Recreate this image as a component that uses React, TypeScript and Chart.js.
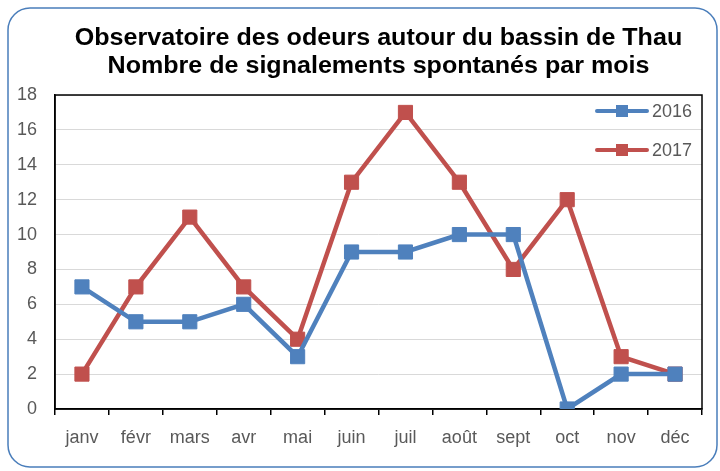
import React, { useEffect, useRef } from "react";
import { Chart, registerables } from "chart.js";

Chart.register(...registerables);

const titleLines = ["Observatoire des odeurs autour du bassin de Thau", "Nombre de signalements spontanés par mois"];
const months = ["janv", "févr", "mars", "avr", "mai", "juin", "juil", "août", "sept", "oct", "nov", "déc"];
const series2016 = [7, 5, 5, 6, 3, 9, 9, 10, 10, 0, 2, 2];
const series2017 = [2, 7, 11, 7, 4, 13, 17, 13, 8, 12, 3, 2];
const seriesLabels = ["2016", "2017"];
const yMin = 0;
const yMax = 18;
const yStep = 2;

const BLUE = "#4f81bd";
const RED = "#c0504d";
const FONT = "'Liberation Sans', Arial, sans-serif";

const framePlugin = {
  id: "frame",
  beforeDraw(chart: any) {
    const ctx = chart.ctx;
    ctx.save();
    ctx.fillStyle = "#ffffff";
    ctx.fillRect(0, 0, chart.width, chart.height);
    const x = 8, y = 8, w = 709, h = 459, r = 22;
    ctx.beginPath();
    ctx.moveTo(x + r, y);
    ctx.arcTo(x + w, y, x + w, y + h, r);
    ctx.arcTo(x + w, y + h, x, y + h, r);
    ctx.arcTo(x, y + h, x, y, r);
    ctx.arcTo(x, y, x + w, y, r);
    ctx.closePath();
    ctx.strokeStyle = "#4a7ebb";
    ctx.lineWidth = 1.5;
    ctx.stroke();
    // title
    const ca = chart.chartArea;
    const cx = (ca.left + ca.right) / 2;
    ctx.fillStyle = "#000000";
    ctx.font = `bold 23px ${FONT}`;
    ctx.textAlign = "center";
    ctx.textBaseline = "middle";
    titleLines.forEach((t, i) => {
      ctx.save();
      ctx.translate(cx, 39 + i * 28);
      ctx.scale(1.09, 1);
      ctx.fillText(t, 0, 0);
      ctx.restore();
    });
    ctx.restore();
  },
  beforeDatasetsDraw(chart: any) {
    const ca = chart.chartArea;
    const ctx = chart.ctx;
    ctx.save();
    ctx.strokeStyle = "#000000";
    ctx.lineWidth = 1.5;
    ctx.strokeRect(ca.left, ca.top, ca.right - ca.left, ca.bottom - ca.top);
    ctx.restore();
  },
  afterDatasetsDraw(chart: any) {
    const ctx = chart.ctx;
    const ca = chart.chartArea;
    ctx.save();
    chart.data.datasets.forEach((ds: any, i: number) => {
      const y = ca.top + 16 + i * 39;
      const x0 = ca.right - 105;
      const x1 = x0 + 50;
      ctx.strokeStyle = ds.borderColor;
      ctx.lineWidth = 4;
      ctx.lineCap = "round";
      ctx.beginPath();
      ctx.moveTo(x0, y);
      ctx.lineTo(x1, y);
      ctx.stroke();
      ctx.fillStyle = ds.backgroundColor;
      ctx.fillRect((x0 + x1) / 2 - 6, y - 6, 12, 12);
      ctx.fillStyle = "#595959";
      ctx.font = `18px ${FONT}`;
      ctx.textAlign = "left";
      ctx.textBaseline = "middle";
      ctx.fillText(ds.label, x1 + 5, y + 1);
    });
    ctx.restore();
  },
};

export default function App() {
  const ref = useRef<HTMLCanvasElement>(null);
  useEffect(() => {
    if (!ref.current) return;
    const mk = (label: string, data: number[], color: string) => ({
      label,
      data,
      borderColor: color,
      backgroundColor: color,
      borderWidth: 4.5,
      pointStyle: "rect",
      pointRadius: 10,
      pointBorderWidth: 1,
      pointBackgroundColor: color,
      pointBorderColor: color,
      tension: 0,
    });
    const chart = new Chart(ref.current, {
      type: "line",
      data: {
        labels: months,
        datasets: [mk(seriesLabels[0], series2016, BLUE), mk(seriesLabels[1], series2017, RED)],
      },
      options: {
        responsive: false,
        animation: false,
        layout: { padding: { top: 95, right: 18, left: 0, bottom: 0 } },
        plugins: { legend: { display: false }, title: { display: false }, tooltip: { enabled: false } },
        scales: {
          x: {
            type: "category",
            offset: true,
            grid: { offset: true, drawOnChartArea: false, drawTicks: true, tickLength: 6, color: "#000000", lineWidth: 1.5 },
            border: { color: "#000000", width: 1.5 },
            ticks: { color: "#595959", font: { family: FONT, size: 18 }, padding: 12, maxRotation: 0, autoSkip: false },
            afterFit: (s: any) => { s.height = 62; },
          },
          y: {
            min: yMin,
            max: yMax,
            ticks: { stepSize: yStep, color: "#595959", font: { family: FONT, size: 18 }, padding: 18 },
            grid: { color: "#d9d9d9", lineWidth: 1, drawTicks: false },
            border: { color: "#000000", width: 1.5 },
            afterFit: (s: any) => { s.width = 55; },
          },
        },
      },
      plugins: [framePlugin],
    } as any);
    return () => chart.destroy();
  }, []);
  return (
    <div style={{ position: "absolute", left: 0, top: 0, width: 720, height: 471, background: "#fff" }}>
      <canvas ref={ref} width={720} height={471} style={{ width: 720, height: 471, display: "block" }} />
    </div>
  );
}
